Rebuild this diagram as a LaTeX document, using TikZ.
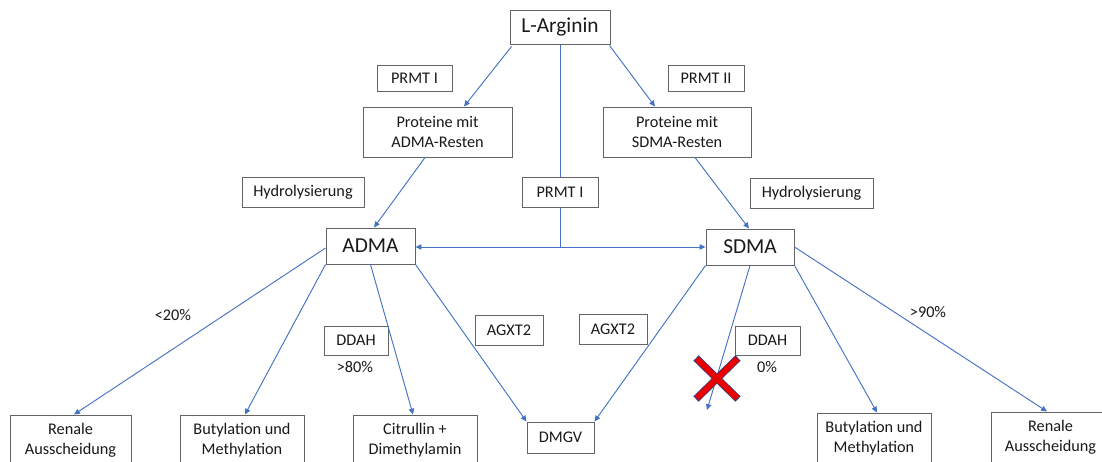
\documentclass[tikz,border=0pt]{standalone}
\usepackage{fontspec}
\setmainfont{Carlito}
\usetikzlibrary{arrows.meta,calc}
\definecolor{flow}{RGB}{68,114,196}
\definecolor{frame}{RGB}{100,100,100}
\definecolor{ink}{RGB}{25,25,25}
\definecolor{crossred}{RGB}{235,0,0}
\definecolor{crossedge}{RGB}{55,60,130}

\begin{document}
\begin{tikzpicture}[x=0.75pt,y=-0.75pt,
  box/.style={draw=frame,line width=0.75pt,text=ink,inner sep=0pt,align=center,
    font=\fontsize{12.2}{15}\selectfont},
  bigbox/.style={box,font=\fontsize{16}{19}\selectfont},
  lbl/.style={text=ink,inner sep=0pt,font=\fontsize{12.2}{15}\selectfont},
  sz/.style 2 args={minimum width=#1*0.75pt,minimum height=#2*0.75pt},
  flowline/.style={draw=flow,line width=0.7pt},
  flowarrow/.style={flowline,-{Triangle[length=4.4pt,width=4pt]}}]

\fill[white] (0,0) rectangle (1102,461);
\clip (0,0) rectangle (1102,461);

% top level
\node[bigbox,sz={100}{34}] (arg) at (560,27) {L-Arginin};
\node[box,sz={75}{26}] (prmtA) at (414.5,78) {PRMT I};
\node[box,sz={76}{26}] (prmtS) at (706,78) {PRMT II};
\node[box,sz={149}{50}] (protA) at (437.5,132) {Proteine mit\\ADMA-Resten};
\node[box,sz={148}{50}] (protS) at (677,132) {Proteine mit\\SDMA-Resten};

% middle level
\node[box,sz={122}{30}] (hydA) at (303,192) {Hydrolysierung};
\node[box,sz={76}{30}] (prmtC) at (560,192) {PRMT I};
\node[box,sz={123}{30}] (hydS) at (811.5,193) {Hydrolysierung};
\node[bigbox,sz={89}{36}] (adma) at (370.5,246) {ADMA};
\node[bigbox,sz={88}{36}] (sdma) at (750,247) {SDMA};
\coordinate (junc) at (560,247);

% enzyme and share labels
\node[lbl] (p20) at (173,315) {<20\%};
\node[box,sz={64}{29}] (ddahA) at (356,340.5) {DDAH};
\node[lbl] (p80) at (355,367) {>80\%};
\node[box,sz={68}{30}] (agxtA) at (509,330) {AGXT2};
\node[box,sz={68}{30}] (agxtS) at (613,329) {AGXT2};
\node[box,sz={65}{29}] (ddahS) at (767.5,340.5) {DDAH};
\node[lbl] (p0) at (767,367) {0\%};
\node[lbl] (p90) at (928,312) {>90\%};

% end products
\node[box,sz={121}{51}] (renA) at (70.5,440.5) {Renale\\Ausscheidung};
\node[box,sz={124}{51}] (butA) at (242,440.5) {Butylation und\\Methylation};
\node[box,sz={124}{51}] (citr) at (415,440.5) {Citrullin +\\Dimethylamin};
\node[box,sz={67}{31}] (dmgv) at (560.5,437.5) {DMGV};
\node[box,sz={114}{51}] (butS) at (874,438.5) {Butylation und\\Methylation};
\node[box,sz={119}{51}] (renS) at (1050.5,437.5) {Renale\\Ausscheidung};
\coordinate (blocked) at (707,410);

% methylation of L-Arginin
\draw[flowarrow] ($(arg.south west)+(2,2)$) -- ($(protA.north)+(26.5,0)$);
\draw[flowarrow] ($(arg.south east)+(-1,1)$) -- ($(protS.north)+(-22,0)$);
\draw[flowline] (arg.south) -- (prmtC.north);
\draw[flowline] (prmtC.south) -- (junc);
\draw[flowarrow] (junc) -- (junc -| adma.east);
\draw[flowarrow] (junc) -- (junc -| sdma.west);

% hydrolysis
\draw[flowarrow] ($(protA.south)+(-12.5,0)$) -- ($(adma.north)+(3.5,0)$);
\draw[flowarrow] ($(protS.south)+(18,0)$) -- ($(sdma.north)+(-1,0)$);

% ADMA pathways
\draw[flowarrow] ($(adma.west)+(0,2)$) -- ($(renA.north)+(3.5,0)$);
\draw[flowarrow] (adma.south west) -- ($(butA.north)+(3,0)$);
\draw[flowarrow] (adma.south) -- ($(citr.north)+(-2,0)$);
\draw[flowarrow] (adma.south east) -- (dmgv.north west);

% SDMA pathways
\draw[flowarrow] (sdma.south west) -- (dmgv.north east);
\draw[flowarrow] (sdma.south) -- (blocked);
\draw[flowarrow] (sdma.south east) -- ($(butS.north)+(3,0)$);
\draw[flowarrow] (sdma.east) -- ($(renS.north)+(-3.5,0)$);

% cross over the blocked DDAH route
\begin{scope}[line cap=butt]
  \draw[crossedge,line width=5.6pt] (696,358) -- (738,399) (738,358) -- (696,399);
  \draw[crossred,line width=4.4pt] (696.8,358.8) -- (737.2,398.2) (737.2,358.8) -- (696.8,398.2);
\end{scope}
\end{tikzpicture}
\end{document}
